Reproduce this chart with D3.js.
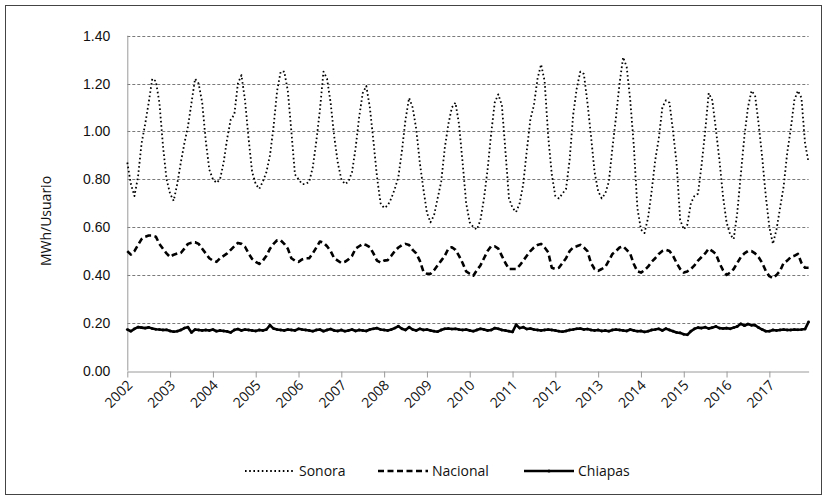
<!DOCTYPE html>
<html lang="es">
<head>
<meta charset="UTF-8">
<title>MWh/Usuario</title>
<script src="https://cdn.jsdelivr.net/npm/d3@7"></script>
<style>
  body { margin: 0; background: #fff; }
  svg { display: block; font-family: "Open Sans", sans-serif; }
  .axis text, .label { font-size: 14px; fill: #111; }
  .axis path, .axis line { stroke: #9a9a9a; }
  .grid line { stroke: #7a7a7a; stroke-dasharray: 3 2; }
</style>
</head>
<body>
<div id="chart"></div>
<script>
// years on the category axis (12 monthly points per year)
var years = ["2002", "2003", "2004", "2005", "2006", "2007", "2008", "2009",
             "2010", "2011", "2012", "2013", "2014", "2015", "2016", "2017"];
var yTicks = [0, 0.2, 0.4, 0.6, 0.8, 1.0, 1.2, 1.4];
var seriesNames = ["Sonora", "Nacional", "Chiapas"];

// monthly values, one row per year (Jan..Dec)
var sonora = [
  0.87, 0.78, 0.73, 0.81, 0.95, 1.03, 1.12, 1.22, 1.21, 1.12, 0.94, 0.80,
  0.74, 0.71, 0.78, 0.87, 0.95, 1.02, 1.12, 1.22, 1.20, 1.12, 0.96, 0.84,
  0.80, 0.785, 0.80, 0.87, 0.97, 1.05, 1.07, 1.20, 1.235, 1.13, 0.97, 0.83,
  0.78, 0.76, 0.79, 0.83, 0.90, 1.02, 1.17, 1.25, 1.25, 1.17, 1.00, 0.82,
  0.80, 0.78, 0.78, 0.79, 0.85, 0.96, 1.09, 1.25, 1.22, 1.12, 0.98, 0.87,
  0.80, 0.78, 0.79, 0.83, 0.93, 1.06, 1.16, 1.19, 1.10, 0.96, 0.81, 0.70,
  0.68, 0.69, 0.72, 0.76, 0.81, 0.92, 1.05, 1.14, 1.10, 1.01, 0.87, 0.76,
  0.66, 0.62, 0.65, 0.72, 0.79, 0.93, 1.03, 1.10, 1.12, 1.03, 0.87, 0.70,
  0.62, 0.60, 0.59, 0.63, 0.72, 0.84, 0.99, 1.12, 1.155, 1.11, 0.92, 0.72,
  0.68, 0.663, 0.70, 0.78, 0.92, 1.05, 1.11, 1.22, 1.28, 1.21, 0.98, 0.82,
  0.73, 0.72, 0.74, 0.76, 0.88, 1.07, 1.18, 1.25, 1.24, 1.12, 0.98, 0.83,
  0.75, 0.72, 0.74, 0.79, 0.93, 1.06, 1.20, 1.31, 1.27, 1.13, 0.94, 0.68,
  0.59, 0.575, 0.64, 0.75, 0.88, 0.97, 1.10, 1.13, 1.12, 1.00, 0.865, 0.63,
  0.59, 0.61, 0.70, 0.73, 0.74, 0.86, 1.00, 1.16, 1.13, 1.01, 0.88, 0.73,
  0.62, 0.57, 0.55, 0.66, 0.82, 0.98, 1.10, 1.17, 1.15, 1.03, 0.89, 0.73,
  0.60, 0.53, 0.59, 0.68, 0.77, 0.91, 1.01, 1.13, 1.17, 1.14, 0.95, 0.87
];
var nacional = [
  0.50, 0.485, 0.50, 0.525, 0.55, 0.56, 0.565, 0.565, 0.56, 0.53, 0.51, 0.49,
  0.475, 0.485, 0.49, 0.492, 0.51, 0.53, 0.535, 0.537, 0.53, 0.51, 0.49, 0.47,
  0.46, 0.455, 0.47, 0.48, 0.49, 0.505, 0.52, 0.534, 0.53, 0.518, 0.49, 0.467,
  0.455, 0.446, 0.46, 0.48, 0.51, 0.53, 0.545, 0.545, 0.53, 0.51, 0.47, 0.46,
  0.455, 0.465, 0.47, 0.47, 0.49, 0.515, 0.54, 0.535, 0.52, 0.50, 0.47, 0.46,
  0.45, 0.455, 0.465, 0.48, 0.51, 0.52, 0.53, 0.525, 0.516, 0.49, 0.46, 0.452,
  0.46, 0.462, 0.48, 0.50, 0.515, 0.525, 0.53, 0.525, 0.505, 0.49, 0.46, 0.415,
  0.405, 0.405, 0.42, 0.44, 0.46, 0.48, 0.51, 0.516, 0.505, 0.48, 0.45, 0.415,
  0.405, 0.397, 0.42, 0.44, 0.47, 0.50, 0.52, 0.52, 0.51, 0.48, 0.45, 0.425,
  0.425, 0.425, 0.44, 0.46, 0.48, 0.50, 0.515, 0.525, 0.53, 0.515, 0.495, 0.43,
  0.425, 0.43, 0.45, 0.47, 0.50, 0.515, 0.52, 0.526, 0.515, 0.50, 0.45, 0.425,
  0.417, 0.425, 0.434, 0.46, 0.488, 0.50, 0.515, 0.52, 0.505, 0.488, 0.446, 0.415,
  0.41, 0.42, 0.435, 0.455, 0.47, 0.488, 0.50, 0.505, 0.50, 0.48, 0.45, 0.425,
  0.41, 0.415, 0.425, 0.44, 0.46, 0.475, 0.49, 0.51, 0.50, 0.488, 0.45, 0.42,
  0.40, 0.41, 0.425, 0.45, 0.475, 0.49, 0.50, 0.50, 0.49, 0.474, 0.45, 0.417,
  0.395, 0.387, 0.40, 0.417, 0.45, 0.46, 0.475, 0.48, 0.488, 0.45, 0.43, 0.43
];
var chiapas = [
  0.172, 0.165, 0.175, 0.182, 0.180, 0.178, 0.181, 0.176, 0.173, 0.172, 0.170, 0.171,
  0.166, 0.163, 0.165, 0.170, 0.178, 0.182, 0.160, 0.172, 0.170, 0.168, 0.170, 0.168,
  0.172, 0.165, 0.168, 0.166, 0.164, 0.160, 0.170, 0.174, 0.168, 0.172, 0.170, 0.168,
  0.166, 0.170, 0.168, 0.172, 0.190, 0.176, 0.172, 0.170, 0.168, 0.172, 0.170, 0.168,
  0.175, 0.172, 0.170, 0.168, 0.165, 0.170, 0.172, 0.165, 0.170, 0.174, 0.168, 0.166,
  0.170, 0.165, 0.168, 0.172, 0.166, 0.170, 0.168, 0.166, 0.172, 0.175, 0.178, 0.172,
  0.170, 0.168, 0.172, 0.178, 0.186, 0.175, 0.170, 0.182, 0.172, 0.168, 0.175, 0.170,
  0.172, 0.168, 0.165, 0.163, 0.170, 0.175, 0.176, 0.174, 0.175, 0.172, 0.170, 0.172,
  0.168, 0.165, 0.170, 0.175, 0.172, 0.168, 0.170, 0.178, 0.175, 0.170, 0.168, 0.165,
  0.162, 0.192, 0.178, 0.182, 0.174, 0.176, 0.172, 0.170, 0.168, 0.170, 0.172, 0.170,
  0.168, 0.165, 0.163, 0.166, 0.170, 0.172, 0.175, 0.176, 0.172, 0.174, 0.170, 0.168,
  0.170, 0.166, 0.168, 0.165, 0.170, 0.172, 0.170, 0.168, 0.166, 0.172, 0.168, 0.165,
  0.166, 0.162, 0.165, 0.170, 0.172, 0.175, 0.168, 0.176, 0.170, 0.165, 0.160, 0.158,
  0.152, 0.150, 0.165, 0.175, 0.180, 0.178, 0.182, 0.176, 0.180, 0.185, 0.178, 0.176,
  0.178, 0.175, 0.180, 0.185, 0.196, 0.188, 0.195, 0.190, 0.190, 0.180, 0.172, 0.165,
  0.165, 0.170, 0.168, 0.170, 0.172, 0.170, 0.170, 0.172, 0.171, 0.172, 0.174, 0.204
];

var WIDTH = 828, HEIGHT = 499;
var LEFT = 127.3, RIGHT = 808.6, TOP = 35.7, BOTTOM = 370.7;

var svg = d3.select('#chart').append('svg')
    .attr('width', WIDTH).attr('height', HEIGHT);

// outer frame
svg.append('rect')
    .attr('x', 5.5).attr('y', 5.5)
    .attr('width', 816).attr('height', 489)
    .attr('fill', 'none').attr('stroke', '#444').attr('stroke-width', 1);

var nPoints = sonora.length;
var x = d3.scaleLinear().domain([0, nPoints - 1]).range([LEFT, RIGHT]);
var y = d3.scaleLinear().domain([0, 1.4]).range([BOTTOM, TOP]);

// horizontal grid
svg.append('g').attr('class', 'grid')
    .selectAll('line')
    .data(yTicks.filter(function(d) { return d > 0; }))
    .enter().append('line')
    .attr('x1', LEFT).attr('x2', RIGHT)
    .attr('y1', function(d) { return Math.round(y(d)) + 0.5; })
    .attr('y2', function(d) { return Math.round(y(d)) + 0.5; });

// y axis
var yAxis = svg.append('g').attr('class', 'axis')
    .attr('transform', 'translate(' + LEFT + ',0)')
    .call(d3.axisLeft(y).tickValues(yTicks).tickSize(0).tickPadding(17)
        .tickFormat(d3.format('.2f')));
yAxis.select('.domain').attr('d', 'M0.5,' + TOP + 'V' + BOTTOM);

// x axis, one tick every 12 months
var xTickVals = years.map(function(d, i) { return i * 12; });
svg.append('g').attr('class', 'axis')
    .attr('transform', 'translate(0,' + (Math.round(BOTTOM) + 0.5) + ')')
    .call(d3.axisBottom(x).tickValues(xTickVals)
        .tickSize(6).tickSizeOuter(0).tickFormat(''));

// rotated year labels
svg.append('g').selectAll('text')
    .data(years).enter().append('text')
    .attr('class', 'label')
    .attr('text-anchor', 'end')
    .attr('transform', function(d, i) {
      return 'translate(' + (x(i * 12) + 6) + ',' + 386 + ') rotate(-45)';
    })
    .text(function(d) { return d; });

// y title
svg.append('text')
    .attr('class', 'label')
    .attr('transform', 'translate(51,221) rotate(-90)')
    .attr('text-anchor', 'middle')
    .text('MWh/Usuario');

var line = d3.line()
    .x(function(d, i) { return x(i); })
    .y(function(d) { return y(d); });

var styles = {
  Sonora:   { w: 1.8, dash: '1.6 2.6' },
  Nacional: { w: 2.6, dash: '6 3.5' },
  Chiapas:  { w: 2.6, dash: null }
};
var data = { Sonora: sonora, Nacional: nacional, Chiapas: chiapas };

seriesNames.forEach(function(name) {
  svg.append('path')
      .datum(data[name])
      .attr('fill', 'none')
      .attr('stroke', '#000')
      .attr('stroke-width', styles[name].w)
      .attr('stroke-dasharray', styles[name].dash)
      .attr('stroke-linejoin', 'round')
      .attr('d', line);
});

// Chiapas markers
svg.append('g').selectAll('circle')
    .data(chiapas).enter().append('circle')
    .attr('cx', function(d, i) { return x(i); })
    .attr('cy', function(d) { return y(d); })
    .attr('r', 1.4).attr('fill', '#000');

// legend
var legendX = [245, 378, 524];
var legend = svg.append('g').attr('transform', 'translate(0,471)');
seriesNames.forEach(function(name, i) {
  legend.append('line')
      .attr('x1', legendX[i]).attr('x2', legendX[i] + 50)
      .attr('stroke', '#000')
      .attr('stroke-width', styles[name].w)
      .attr('stroke-dasharray', styles[name].dash);
  if (name === 'Chiapas') {
    legend.append('circle').attr('cx', legendX[i] + 25).attr('r', 1.6).attr('fill', '#000');
  }
  legend.append('text')
      .attr('class', 'label')
      .attr('x', legendX[i] + 54).attr('dy', '0.35em')
      .text(name);
});
</script>
</body>
</html>
